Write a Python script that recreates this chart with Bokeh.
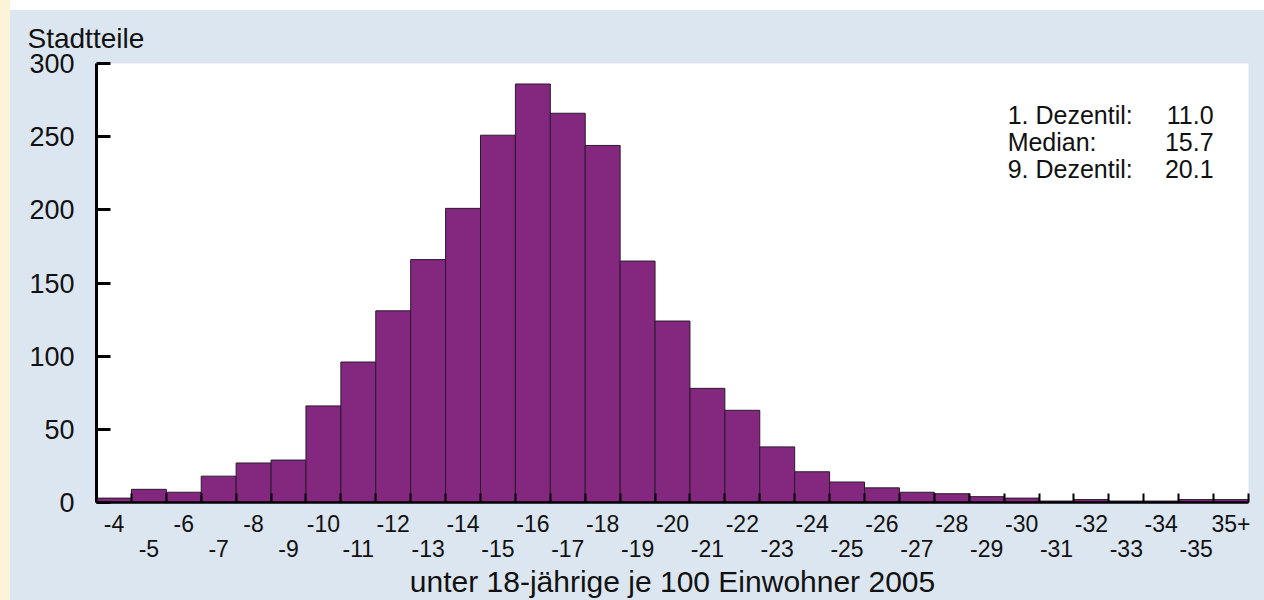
from bokeh.plotting import figure
from bokeh.models import Range1d, FixedTicker, LinearAxis, GlobalInlineStyleSheet, ColumnDataSource
from bokeh.core.properties import value
from bokeh.embed import file_html
from bokeh.resources import INLINE

# ---- data ----
categories = ["-4", "-5", "-6", "-7", "-8", "-9", "-10", "-11", "-12", "-13", "-14",
              "-15", "-16", "-17", "-18", "-19", "-20", "-21", "-22", "-23", "-24",
              "-25", "-26", "-27", "-28", "-29", "-30", "-31", "-32", "-33", "-34",
              "-35", "35+"]
counts = [3, 9, 7, 18, 27, 29, 66, 96, 131, 166, 201, 251, 286, 266, 244, 165,
          124, 78, 63, 38, 21, 14, 10, 7, 6, 4, 3, 1, 2, 1, 1, 2, 2]
y_ticks = [0, 50, 100, 150, 200, 250, 300]
stat_names = ["1. Dezentil:", "Median:", "9. Dezentil:"]
stat_values = ["11.0", "15.7", "20.1"]
y_title = "Stadtteile"
x_title = "unter 18-jährige je 100 Einwohner 2005"

FONT = "Liberation Sans"
BLUE = "#dce6f0"
INK = "#111111"

idx = list(range(len(categories)))
src = ColumnDataSource(dict(
    left=[i - 0.5 for i in idx],
    right=[i + 0.5 for i in idx],
    top=counts,
    bottom=[0] * len(idx),
))

p = figure(width=1254, height=590, output_backend="svg", toolbar_location=None,
           x_range=Range1d(-0.5, len(categories) - 0.5), y_range=Range1d(0, 300),
           min_border_left=86, min_border_right=16, min_border_top=52, min_border_bottom=98,
           background_fill_color="white", border_fill_color=BLUE,
           outline_line_color=None)
p.grid.visible = False

p.quad(left="left", right="right", top="top", bottom="bottom", source=src,
       fill_color="#84277f", line_color="#2a1a2e", line_width=1)

# title "Stadtteile"
p.title.text = y_title
p.title.align = "left"
p.title.offset = -69
p.title.text_font = FONT
p.title.text_font_size = "28px"
p.title.text_font_style = "normal"
p.title.text_color = INK
p.title.standoff = 20

# y axis
ya = p.yaxis[0]
ya.ticker = FixedTicker(ticks=y_ticks)
ya.major_tick_in = 14
ya.major_tick_out = 0
ya.minor_tick_line_color = None
ya.major_tick_line_width = 3
ya.axis_line_width = 3
ya.axis_line_color = "black"
ya.major_label_standoff = 22
ya.major_label_text_font = FONT
ya.major_label_text_font_size = "27px"
ya.major_label_text_color = INK

# x axis, row 1 (even categories) + boundary ticks
even = [i for i in idx if i % 2 == 0]
odd = [i for i in idx if i % 2 == 1]
bounds = [i - 0.5 for i in idx] + [idx[-1] + 0.5]

xa = p.xaxis[0]
xa.ticker = FixedTicker(ticks=even, minor_ticks=bounds)
xa.major_label_overrides = {i: categories[i] for i in even}
xa.major_tick_in = 0
xa.major_tick_out = 0
xa.minor_tick_in = 9
xa.minor_tick_out = 0
xa.minor_tick_line_width = 2
xa.minor_tick_line_color = "black"
xa.axis_line_width = 2.5
xa.axis_line_color = "black"
xa.major_label_standoff = 12
xa.major_label_text_font = FONT
xa.major_label_text_font_size = "23px"
xa.major_label_text_color = INK

# x axis, row 2 (odd categories) + axis title
xb = LinearAxis(ticker=FixedTicker(ticks=odd))
xb.major_label_overrides = {i: categories[i] for i in odd}
xb.axis_line_color = None
xb.major_tick_line_color = None
xb.minor_tick_line_color = None
xb.major_tick_in = 0
xb.major_tick_out = 0
xb.major_label_standoff = 5
xb.major_label_text_font = FONT
xb.major_label_text_font_size = "23px"
xb.major_label_text_color = INK
xb.axis_label = x_title
xb.axis_label_text_font = FONT
xb.axis_label_text_font_size = "30px"
xb.axis_label_text_font_style = "normal"
xb.axis_label_text_color = INK
xb.axis_label_standoff = 5
p.add_layout(xb, "below")

# statistics box text
stat_y = [265, 246.5, 228]
p.text(x=[25.6] * 3, y=stat_y, text=stat_names, text_font=value(FONT),
       text_font_size="25px", text_color=INK, text_baseline="alphabetic",
       text_align="left")
p.text(x=[31.5] * 3, y=stat_y, text=stat_values, text_font=value(FONT),
       text_font_size="25px", text_color=INK, text_baseline="alphabetic",
       text_align="right")

p.stylesheets = [GlobalInlineStyleSheet(css=(
    "body{padding:10px 0 0 10px;"
    "background:linear-gradient(to right,#fdf3d6 0,#fdf3d6 10px,transparent 10px),"
    "linear-gradient(to bottom,#ffffff 0,#ffffff 10px," + BLUE + " 10px);}"
))]

open("out.html", "w").write(file_html(p, INLINE))
